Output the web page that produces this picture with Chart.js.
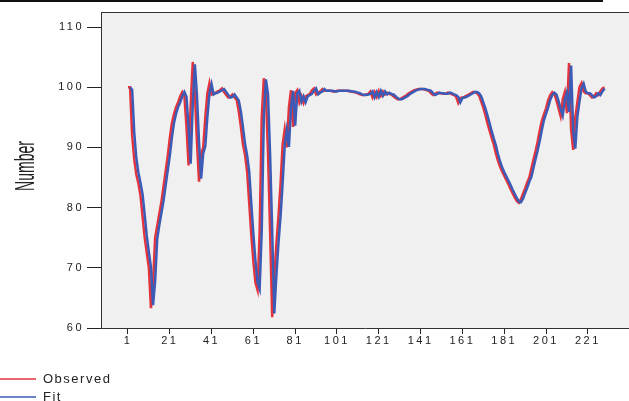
<!DOCTYPE html>
<html>
<head>
<meta charset="utf-8">
<script src="https://cdn.jsdelivr.net/npm/chart.js@4/dist/chart.umd.min.js"></script>
<style>
  html, body { margin: 0; padding: 0; background: #fff; overflow: hidden; }
</style>
</head>
<body>
<canvas id="myChart" width="629" height="401"></canvas>
<script>
// values
const observed = [
  100, 100, 92, 88, 85.5, 84, 82, 78.5, 75, 72.5,
  70, 63.3, 67.5, 75, 77, 79, 81, 83.5, 86, 88.5,
  91.5, 94, 95.5, 96.7, 97.5, 98.5, 99.2, 98.5, 93.5, 87,
  97, 104.2, 99, 91, 84.3, 89, 90, 95, 99, 100.7,
  98.8, 99, 99.1, 99.3, 99.5, 99.8, 99.2, 98.7, 98.3, 98.4,
  98.8, 98.3, 97.9, 96, 93.5, 90.5, 88.8, 86, 80.8, 75.5,
  71, 67.5, 66.3, 76, 95, 101.5, 99, 89, 76, 61.8,
  68.5, 74, 78.5, 84, 90.5, 93, 90, 96.7, 99.5, 93.4,
  99, 99.5, 97.5, 98.5, 97.4, 98.5, 98.7, 98.9, 99.5, 99.8,
  98.8, 99.1, 99.3, 99.7, 99.4, 99.4, 99.4, 99.4, 99.3, 99.3,
  99.4, 99.4, 99.4, 99.4, 99.4, 99.4, 99.3, 99.3, 99.2, 99.1,
  99, 98.8, 98.7, 98.7, 98.8, 98.9, 99.3, 98.3, 99.2, 98.4,
  99.4, 98.6, 99.3, 98.8, 99.1, 98.9, 98.8, 98.5, 98.2, 98,
  98, 98.2, 98.4, 98.6, 98.9, 99.1, 99.3, 99.5, 99.6, 99.7,
  99.7, 99.7, 99.6, 99.5, 99.4, 99, 98.7, 98.9, 99.1, 99,
  99, 98.9, 98.9, 99.1, 99, 98.8, 98.7, 98.4, 97.4, 98.2,
  98.3, 98.4, 98.6, 98.8, 99, 99.2, 99.2, 99, 98.6, 97.6,
  96.6, 95.4, 94, 92.8, 91.6, 90.5, 89, 87.8, 86.8, 86,
  85.3, 84.6, 83.9, 83.1, 82.4, 81.7, 81.1, 80.8, 81.4, 82.3,
  83.2, 84.2, 85, 86.5, 88, 89.4, 91, 92.8, 94.4, 95.5,
  96.5, 97.8, 98.7, 99.2, 98.9, 97.8, 96.5, 95.2, 98, 99.2,
  95.7, 104, 93, 89.6, 95, 97.5, 100, 100.7, 99.3, 99,
  99, 98.7, 98.3, 98.5, 99, 98.7, 99.3, 99.8, 100
]
const fit = [
  null, 100, 99.6, 92.5, 88.2, 85.8, 84.1, 82.2, 78.8, 75.3,
  72.6, 70.1, 63.8, 67.8, 74.8, 77.1, 79.1, 81.1, 83.6, 86.1,
  88.6, 91.6, 94, 95.6, 96.7, 97.5, 98.5, 99.2, 98.4, 93.3,
  87.3, 97.2, 103.8, 98.8, 90.8, 84.8, 89, 90.2, 95.1, 99,
  100.5, 98.8, 99, 99.1, 99.3, 99.5, 99.7, 99.2, 98.7, 98.3,
  98.4, 98.8, 98.3, 97.8, 96, 93.4, 90.6, 88.7, 86, 80.7,
  75.6, 71.1, 67.6, 66.5, 76.2, 95.1, 101.3, 98.8, 88.8, 76.1,
  62.4, 68.7, 74.1, 78.6, 84.1, 90.4, 92.9, 90.1, 96.6, 99.4,
  93.6, 99, 99.4, 97.6, 98.5, 97.5, 98.5, 98.7, 98.9, 99.4,
  99.8, 98.8, 99.1, 99.3, 99.7, 99.4, 99.4, 99.4, 99.4, 99.3,
  99.3, 99.4, 99.4, 99.4, 99.4, 99.4, 99.4, 99.3, 99.3, 99.2,
  99.1, 99, 98.8, 98.7, 98.7, 98.8, 98.9, 99.3, 98.3, 99.2,
  98.4, 99.4, 98.6, 99.3, 98.8, 99.1, 98.9, 98.8, 98.5, 98.2,
  98, 98, 98.2, 98.4, 98.6, 98.9, 99.1, 99.3, 99.5, 99.6,
  99.7, 99.7, 99.7, 99.6, 99.5, 99.4, 99, 98.7, 98.9, 99.1,
  99, 99, 98.9, 98.9, 99.1, 99, 98.8, 98.7, 98.4, 97.5,
  98.2, 98.3, 98.4, 98.6, 98.8, 99, 99.2, 99.2, 99, 98.5,
  97.5, 96.5, 95.3, 94, 92.7, 91.5, 90.4, 88.9, 87.7, 86.7,
  85.9, 85.2, 84.5, 83.8, 83, 82.3, 81.6, 81, 80.9, 81.5,
  82.4, 83.3, 84.3, 85.1, 86.6, 88.1, 89.5, 91.1, 92.9, 94.5,
  95.6, 96.6, 97.9, 98.7, 99.1, 98.8, 97.7, 96.4, 95.3, 97.9,
  99.1, 95.9, 103.6, 92.8, 89.8, 95.1, 97.6, 99.9, 100.6, 99.3,
  99, 99, 98.7, 98.3, 98.5, 99, 98.7, 99.3, 99.8
]
const periods = observed.map((v, i) => i + 1)
const xTicks = [1, 21, 41, 61, 81, 101, 121, 141, 161, 181, 201, 221]
const yTicks = [60, 70, 80, 90, 100, 110]
const yTitle = 'Number'

const tickFont = { family: "'Liberation Sans', Arial, sans-serif", size: 11 }

// background, frame lines, axis title, legend
const decor = {
  id: 'decor',
  beforeDraw(chart) {
    const { ctx, chartArea: a } = chart
    ctx.save()
    ctx.fillStyle = '#f0f0f0'
    ctx.fillRect(a.left, a.top, a.right - a.left, a.bottom - a.top)
    ctx.fillStyle = '#111'
    ctx.fillRect(0, 0, 603, 2)
    ctx.fillStyle = '#333'
    ctx.fillRect(a.left, a.top, a.right - a.left, 1)
    ctx.restore()
    ctx.letterSpacing = '2.5px'
  },
  beforeDatasetsDraw(chart) {
    chart.ctx.letterSpacing = '0px'
  },
  afterDraw(chart) {
    const ctx = chart.ctx
    ctx.save()
    ctx.letterSpacing = '0px'
    // y title, tall and condensed
    ctx.translate(26, 166)
    ctx.rotate(-Math.PI / 2)
    ctx.scale(0.5, 1)
    ctx.fillStyle = '#222'
    ctx.font = "28px 'Liberation Sans', Arial, sans-serif"
    ctx.textAlign = 'center'
    ctx.textBaseline = 'middle'
    ctx.fillText(yTitle, 0, 0)
    ctx.restore()

    ctx.save()
    ctx.font = "13px 'Liberation Sans', Arial, sans-serif"
    ctx.letterSpacing = '1.5px'
    ctx.textBaseline = 'middle'
    chart.data.datasets.forEach((ds, i) => {
      const y = 379 + i * 18
      ctx.strokeStyle = ds.borderColor
      ctx.lineWidth = 1.5
      ctx.beginPath()
      ctx.moveTo(0, y)
      ctx.lineTo(36, y)
      ctx.stroke()
      ctx.fillStyle = '#222'
      ctx.fillText(ds.label, 43, y)
    })
    ctx.restore()
  }
}

const ctx = document.getElementById('myChart')
const myChart = new Chart(ctx, {
  type: 'line',
  data: {
    datasets: [{
      label: 'Observed',
      data: observed.map((v, i) => ({ x: periods[i], y: v })),
      borderColor: '#e3343c',
      borderWidth: 2.5,
      order: 2
    }, {
      label: 'Fit',
      data: fit.map((v, i) => ({ x: periods[i], y: v })),
      borderColor: '#3b5bb7',
      borderWidth: 2.5,
      order: 1
    }]
  },
  options: {
    responsive: false,
    animation: false,
    layout: { padding: { top: 12, left: 0, right: 0, bottom: 0 } },
    elements: {
      point: { radius: 0 },
      line: { tension: 0 }
    },
    scales: {
      x: {
        type: 'linear',
        min: -11.9,
        max: 240.7,
        afterBuildTicks: s => { s.ticks = xTicks.map(v => ({ value: v })) },
        afterFit: s => { s.height = 73 },
        grid: { drawOnChartArea: false, drawTicks: true, tickLength: 6, color: '#222' },
        border: { display: true, color: '#333', width: 1 },
        ticks: {
          autoSkip: false,
          maxRotation: 0,
          padding: 0,
          color: '#222',
          font: tickFont,
          callback: v => String(v)
        }
      },
      y: {
        min: 60,
        max: 112.5,
        afterBuildTicks: s => { s.ticks = yTicks.map(v => ({ value: v })) },
        afterFit: s => { s.width = 101 },
        grid: { drawOnChartArea: false, drawTicks: true, tickLength: 14, color: '#222' },
        border: { display: true, color: '#333', width: 1 },
        ticks: {
          padding: 3,
          color: '#222',
          font: tickFont,
          callback: v => String(v)
        }
      }
    },
    plugins: {
      legend: { display: false },
      tooltip: { enabled: false }
    }
  },
  plugins: [decor]
})
</script>
</body>
</html>
